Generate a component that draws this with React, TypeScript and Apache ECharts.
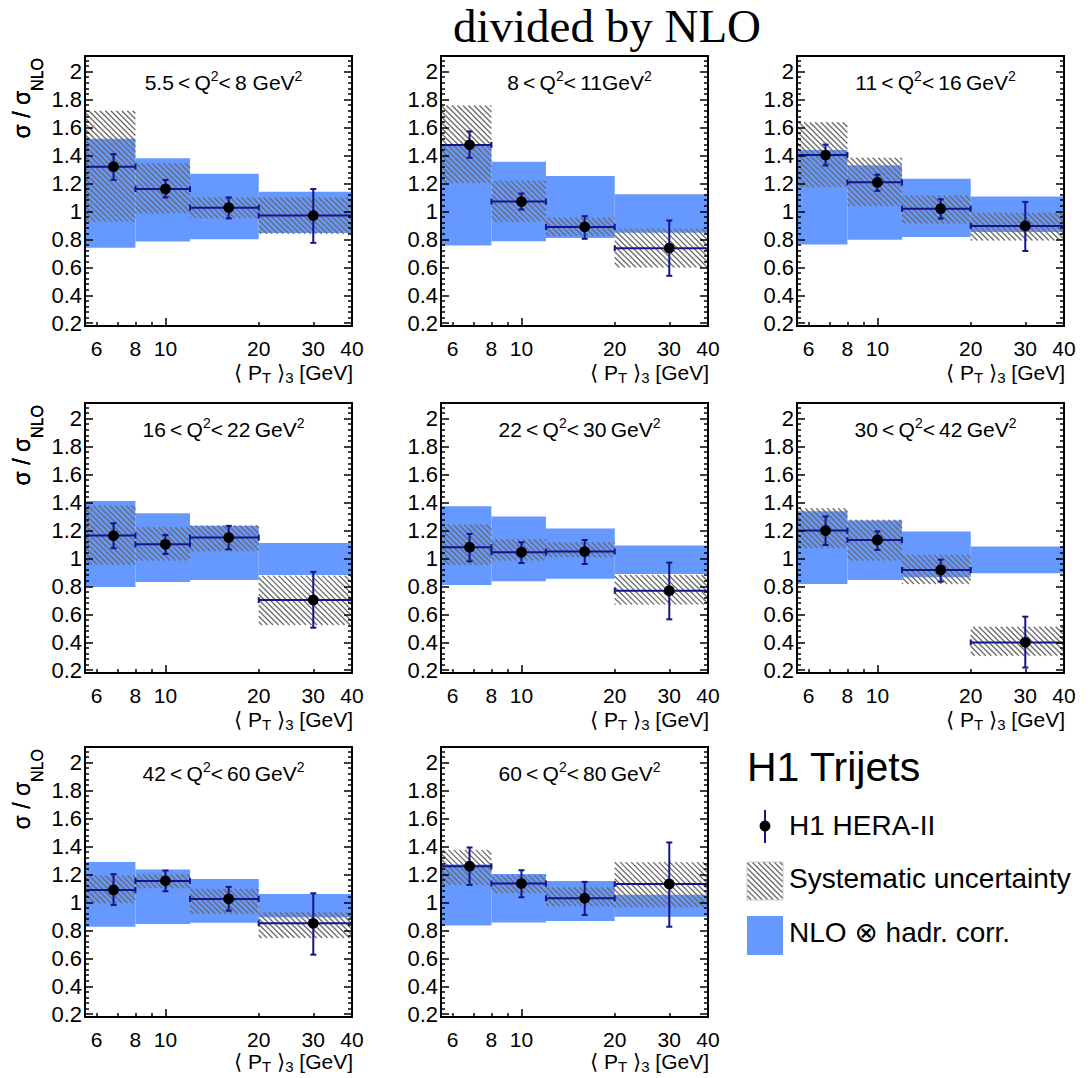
import React, { useEffect, useRef } from "react";
import * as echarts from "echarts";

// ---------------- data ----------------
const TS = "\u2009"; // thin space
const panelTitles = [
  `5.5${TS}<${TS}Q{s|2}<${TS}8 GeV{s|2}`,
  `8${TS}<${TS}Q{s|2}<${TS}11GeV{s|2}`,
  `11${TS}<${TS}Q{s|2}<${TS}16${TS}GeV{s|2}`,
  `16${TS}<${TS}Q{s|2}<${TS}22${TS}GeV{s|2}`,
  `22${TS}<${TS}Q{s|2}<${TS}30${TS}GeV{s|2}`,
  `30${TS}<${TS}Q{s|2}<${TS}42${TS}GeV{s|2}`,
  `42${TS}<${TS}Q{s|2}<${TS}60${TS}GeV{s|2}`,
  `60${TS}<${TS}Q{s|2}<${TS}80${TS}GeV{s|2}`,
];

const binLo = [5.5, 8, 12, 20];
const binHi = [8, 12, 20, 40];
const binCenter = [6.8, 10, 16, 30];

// measured ratio sigma / sigma_NLO
const ratio = [
  [1.32, 1.16, 1.027, 0.97],
  [1.476, 1.07, 0.889, 0.737],
  [1.403, 1.208, 1.019, 0.896],
  [1.163, 1.101, 1.149, 0.702],
  [1.08, 1.044, 1.049, 0.769],
  [1.199, 1.132, 0.917, 0.399],
  [1.089, 1.154, 1.025, 0.85],
  [1.259, 1.135, 1.03, 1.132],
];
// statistical error bar bounds
const statLo = [
  [1.225, 1.1, 0.95, 0.775],
  [1.384, 1.014, 0.804, 0.539],
  [1.329, 1.147, 0.949, 0.717],
  [1.073, 1.032, 1.065, 0.504],
  [0.979, 0.967, 0.96, 0.564],
  [1.096, 1.061, 0.834, 0.219],
  [0.982, 1.08, 0.941, 0.626],
  [1.125, 1.037, 0.91, 0.826],
];
const statHi = [
  [1.41, 1.225, 1.1, 1.16],
  [1.572, 1.128, 0.966, 0.935],
  [1.478, 1.263, 1.087, 1.068],
  [1.252, 1.168, 1.233, 0.903],
  [1.175, 1.115, 1.132, 0.97],
  [1.3, 1.194, 0.991, 0.583],
  [1.202, 1.228, 1.111, 1.065],
  [1.393, 1.23, 1.147, 1.429],
];
// systematic uncertainty band
const sysLo = [
  [0.925, 0.985, 0.95, 0.84],
  [1.203, 0.925, 0.824, 0.599],
  [1.174, 1.039, 0.913, 0.792],
  [0.955, 0.984, 1.051, 0.523],
  [0.953, 0.984, 1.008, 0.669],
  [1.073, 0.984, 0.817, 0.303],
  [0.994, 1.101, 0.917, 0.745],
  [1.125, 1.065, 0.972, 0.965],
];
const sysHi = [
  [1.72, 1.345, 1.1, 1.1],
  [1.758, 1.22, 0.954, 0.877],
  [1.638, 1.384, 1.114, 0.99],
  [1.378, 1.223, 1.235, 0.877],
  [1.242, 1.137, 1.115, 0.881],
  [1.359, 1.276, 1.027, 0.511],
  [1.192, 1.2, 1.096, 0.929],
  [1.376, 1.197, 1.108, 1.288],
];
// NLO x hadronisation correction band
const nloLo = [
  [0.74, 0.785, 0.8, 0.845],
  [0.756, 0.787, 0.809, 0.848],
  [0.763, 0.797, 0.816, 0.853],
  [0.795, 0.831, 0.845, 0.881],
  [0.81, 0.836, 0.855, 0.889],
  [0.817, 0.846, 0.865, 0.894],
  [0.826, 0.846, 0.855, 0.893],
  [0.834, 0.857, 0.867, 0.898],
];
const nloHi = [
  [1.52, 1.38, 1.27, 1.14],
  [1.476, 1.355, 1.254, 1.123],
  [1.44, 1.331, 1.234, 1.106],
  [1.41, 1.323, 1.233, 1.11],
  [1.374, 1.3, 1.214, 1.092],
  [1.338, 1.271, 1.192, 1.085],
  [1.29, 1.235, 1.168, 1.061],
  [1.271, 1.204, 1.154, 1.054],
];

const xTickLabels = [6, 8, 10, 20, 30, 40];
const xMajorTicks = [10];
const xMinorTicks = [6, 7, 8, 9, 20, 30];
const yTickLabels = [0.2, 0.4, 0.6, 0.8, 1, 1.2, 1.4, 1.6, 1.8, 2];

// ---------------- style / layout ----------------
const FONT = '"Liberation Sans", Arial, Helvetica, "DejaVu Sans", sans-serif';
const SERIF = '"Liberation Serif", "Times New Roman", "DejaVu Serif", serif';
const BLUE = "#6699ff";
const NAVY = "#14148c";
const HATCH = "#6a6a6a";
const X_MIN = 5.5;
const X_MAX = 40.001;
const Y_MIN = 0.18;
const Y_MAX = 2.112;
const colLeft = [85, 441, 797];
const rowTop = [56, 403, 747];
const W = 267;
const H = 270;
const HATCH_STEP = 5.5;

const yMinorTicks: number[] = [];
for (let i = 4; i <= 52; i++) {
  if (i % 5 !== 0) yMinorTicks.push(Math.round(i * 4) / 100);
}

function hatchLines(x0: number, y0: number, x1: number, y1: number, style: any) {
  const out: any[] = [];
  const kStart = Math.ceil((y0 - x1) / HATCH_STEP);
  const kEnd = Math.floor((y1 - x0) / HATCH_STEP);
  for (let k = kStart; k <= kEnd; k++) {
    const c = k * HATCH_STEP;
    const xs = Math.max(x0, y0 - c);
    const xe = Math.min(x1, y1 - c);
    if (xe - xs > 0.3) {
      out.push({ type: "line", shape: { x1: xs, y1: xs + c, x2: xe, y2: xe + c }, style });
    }
  }
  return out;
}

const renderBand = (params: any, api: any) => {
  const a = api.coord([api.value(0), api.value(3)]);
  const b = api.coord([api.value(1), api.value(2)]);
  return {
    type: "rect",
    shape: { x: a[0], y: a[1], width: b[0] - a[0], height: b[1] - a[1] },
    style: { fill: BLUE },
  };
};

const renderHatch = (params: any, api: any) => {
  const a = api.coord([api.value(0), api.value(3)]);
  const b = api.coord([api.value(1), api.value(2)]);
  return {
    type: "group",
    children: hatchLines(a[0], a[1], b[0], b[1], { stroke: HATCH, lineWidth: 1.3 }),
  };
};

const renderPoint = (params: any, api: any) => {
  const x = api.value(0);
  const y = api.value(1);
  const c = api.coord([x, y]);
  const pl = api.coord([api.value(2), y]);
  const ph = api.coord([api.value(3), y]);
  const pyl = api.coord([x, api.value(4)]);
  const pyh = api.coord([x, api.value(5)]);
  const ls = { stroke: NAVY, lineWidth: 2 };
  const cap = 3;
  return {
    type: "group",
    children: [
      { type: "line", shape: { x1: pl[0], y1: c[1], x2: ph[0], y2: c[1] }, style: ls },
      { type: "line", shape: { x1: pl[0], y1: c[1] - cap, x2: pl[0], y2: c[1] + cap }, style: ls },
      { type: "line", shape: { x1: ph[0], y1: c[1] - cap, x2: ph[0], y2: c[1] + cap }, style: ls },
      { type: "line", shape: { x1: c[0], y1: pyh[1], x2: c[0], y2: pyl[1] }, style: ls },
      { type: "line", shape: { x1: c[0] - cap, y1: pyh[1], x2: c[0] + cap, y2: pyh[1] }, style: ls },
      { type: "line", shape: { x1: c[0] - cap, y1: pyl[1], x2: c[0] + cap, y2: pyl[1] }, style: ls },
      { type: "circle", shape: { cx: c[0], cy: c[1], r: 5.4 }, style: { fill: "#000" } },
    ],
  };
};

function text(x: number, y: number, str: string, size: number, extra: any = {}) {
  return {
    type: "text",
    x,
    y,
    z: 30,
    silent: true,
    rotation: extra.rotation || 0,
    style: {
      text: str,
      fontSize: size,
      fontFamily: extra.fontFamily || FONT,
      fill: "#000",
      align: extra.align || "left",
      textAlign: extra.align || "left",
      verticalAlign: "middle",
      textVerticalAlign: "middle",
      lineHeight: extra.lineHeight,
      rich: extra.rich,
    },
  };
}

function buildOption() {
  const grids: any[] = [];
  const xAxes: any[] = [];
  const yAxes: any[] = [];
  const series: any[] = [];
  const graphics: any[] = [];

  const tickLine = { color: "#000", width: 1.5 };

  for (let p = 0; p < 8; p++) {
    const col = p % 3;
    const row = Math.floor(p / 3);
    const left = colLeft[col];
    const top = rowTop[row];
    grids.push({
      left,
      top,
      width: W,
      height: H,
      show: true,
      borderColor: "#000",
      borderWidth: 2,
      backgroundColor: "transparent",
      z: 10,
    });

    const xBase = {
      gridIndex: p,
      type: "log",
      logBase: 10,
      min: X_MIN,
      max: X_MAX,
      position: "bottom",
      z: 10,
      axisLine: { show: false },
      splitLine: { show: false },
    };
    const xa = xAxes.length;
    xAxes.push({
      ...xBase,
      axisTick: { show: true, inside: true, length: 8, customValues: xMajorTicks, lineStyle: tickLine },
      axisLabel: {
        show: true,
        customValues: xTickLabels,
        margin: 12,
        fontSize: 21,
        color: "#000",
        fontFamily: FONT,
        formatter: (v: number) => String(Math.round(v)),
      },
    });
    xAxes.push({
      ...xBase,
      axisTick: { show: true, inside: true, length: 4, customValues: xMinorTicks, lineStyle: tickLine },
      axisLabel: { show: false },
    });

    const yBase = {
      gridIndex: p,
      type: "value",
      min: Y_MIN,
      max: Y_MAX,
      z: 10,
      axisLine: { show: false },
      splitLine: { show: false },
    };
    const ya = yAxes.length;
    yAxes.push({
      ...yBase,
      position: "left",
      axisTick: { show: true, inside: true, length: 8, customValues: yTickLabels, lineStyle: tickLine },
      axisLabel: {
        show: true,
        customValues: yTickLabels,
        margin: 3,
        fontSize: 22,
        color: "#000",
        fontFamily: FONT,
        formatter: (v: number) => String(parseFloat(Number(v).toFixed(1))),
      },
    });
    yAxes.push({
      ...yBase,
      position: "left",
      axisTick: { show: true, inside: true, length: 4, customValues: yMinorTicks, lineStyle: tickLine },
      axisLabel: { show: false },
    });
    yAxes.push({
      ...yBase,
      position: "right",
      axisTick: { show: true, inside: true, length: 8, customValues: yTickLabels, lineStyle: tickLine },
      axisLabel: { show: false },
    });
    yAxes.push({
      ...yBase,
      position: "right",
      axisTick: { show: true, inside: true, length: 4, customValues: yMinorTicks, lineStyle: tickLine },
      axisLabel: { show: false },
    });

    series.push({
      type: "custom",
      xAxisIndex: xa,
      yAxisIndex: ya,
      z: 2,
      silent: true,
      clip: true,
      data: binLo.map((lo, i) => [lo, binHi[i], nloLo[p][i], nloHi[p][i]]),
      encode: { x: [0, 1], y: [2, 3] },
      renderItem: renderBand,
    });
    series.push({
      type: "custom",
      xAxisIndex: xa,
      yAxisIndex: ya,
      z: 3,
      silent: true,
      clip: true,
      data: binLo.map((lo, i) => [lo, binHi[i], sysLo[p][i], sysHi[p][i]]),
      encode: { x: [0, 1], y: [2, 3] },
      renderItem: renderHatch,
    });
    series.push({
      type: "custom",
      xAxisIndex: xa,
      yAxisIndex: ya,
      z: 4,
      silent: true,
      clip: true,
      data: binCenter.map((xc, i) => [xc, ratio[p][i], binLo[i], binHi[i], statLo[p][i], statHi[p][i]]),
      encode: { x: [0, 2, 3], y: [1, 4, 5] },
      renderItem: renderPoint,
    });

    // panel title
    graphics.push(
      text(left + W / 2 + 5, top + 26, panelTitles[p], 21, {
        align: "center",
        lineHeight: 26,
        rich: { s: { fontSize: 14, lineHeight: 19, verticalAlign: "top", fontFamily: FONT } },
      })
    );
    // y axis name
    graphics.push(
      text(22, top + 2, "σ / σ{n|NLO}", 23, {
        align: "right",
        rotation: Math.PI / 2,
        lineHeight: 46,
        rich: { n: { fontSize: 16, lineHeight: 16, verticalAlign: "bottom", fontFamily: FONT } },
      })
    );
    // x axis name
    graphics.push(
      text(left + W + 1, top + H + (row === 2 ? 44 : 46), "⟨ P{n|T} ⟩{n|3} [GeV]", 21, {
        align: "right",
        lineHeight: 26,
        rich: { n: { fontSize: 15, lineHeight: 10, verticalAlign: "bottom", fontFamily: FONT } },
      })
    );
  }

  // title
  graphics.push(text(607, 26, "divided by NLO", 47, { align: "center", fontFamily: SERIF, lineHeight: 44 }));

  // legend
  graphics.push(text(747, 767, "H1 Trijets", 41));
  graphics.push({ type: "line", z: 30, shape: { x1: 765, y1: 810, x2: 765, y2: 843 }, style: { stroke: NAVY, lineWidth: 2 } });
  graphics.push({ type: "circle", z: 31, shape: { cx: 765, cy: 826, r: 5.4 }, style: { fill: "#000" } });
  graphics.push(text(789, 825, "H1 HERA-II", 28));

  graphics.push({ type: "rect", z: 30, shape: { x: 747, y: 862, width: 36, height: 38 }, style: { fill: "#fff", stroke: "#c8c8c8", lineWidth: 1 } });
  hatchLines(747.5, 862.5, 782.5, 899.5, { stroke: HATCH, lineWidth: 1.3 }).forEach((l) => graphics.push({ ...l, z: 31 }));
  graphics.push(text(789, 878, "Systematic uncertainty", 28));

  graphics.push({ type: "rect", z: 30, shape: { x: 747, y: 916, width: 36, height: 39 }, style: { fill: BLUE } });
  graphics.push(text(789, 932, "NLO ⊗ hadr. corr.", 28));

  return {
    animation: false,
    backgroundColor: "#fff",
    textStyle: { fontFamily: FONT },
    grid: grids,
    xAxis: xAxes,
    yAxis: yAxes,
    series,
    graphic: { elements: graphics },
  };
}

export default function App() {
  const ref = useRef<HTMLDivElement>(null);
  useEffect(() => {
    if (!ref.current) return;
    const chart = echarts.init(ref.current, undefined, { renderer: "svg" });
    chart.setOption(buildOption() as any);
    return () => chart.dispose();
  }, []);
  return (
    <div
      ref={ref}
      style={{ position: "absolute", left: 0, top: 0, width: 1091, height: 1078, background: "#fff" }}
    />
  );
}
